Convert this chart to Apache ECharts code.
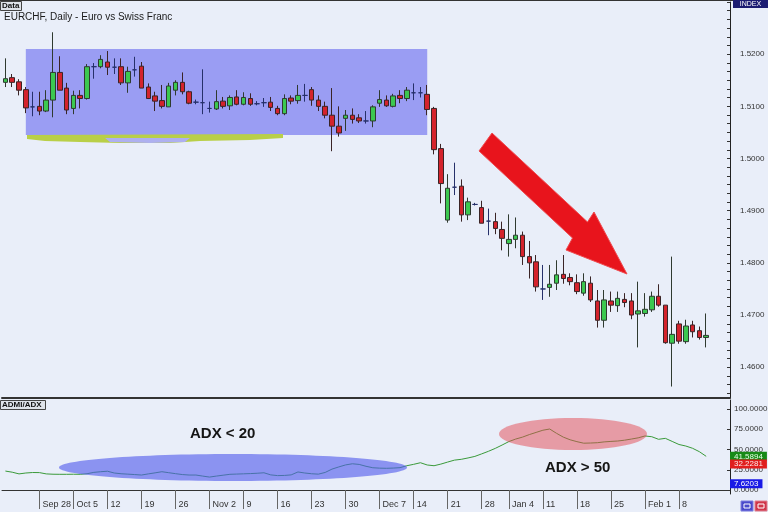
<!DOCTYPE html>
<html><head><meta charset="utf-8">
<script src="https://cdn.jsdelivr.net/npm/echarts@6/dist/echarts.min.js"></script>
<style>html,body{margin:0;padding:0;background:#e9eef9}#c{width:768px;height:512px}</style>
</head><body><div id="c"></div><script>
// ---------- data ----------
const startDate = '2009-09-21';
const holidays = ['2010-01-01'];
const padBars = 3;
const opens = [1.5146,1.5155,1.5147,1.5132,1.5099,1.5100,1.5091,1.5112,1.5165,1.5135,
1.5096,1.5121,1.5115,1.5176,1.5176,1.5185,1.5175,1.5176,1.5145,1.5170,
1.5177,1.5137,1.5120,1.5111,1.5099,1.5131,1.5146,1.5128,1.5108,1.5107,
1.5096,1.5095,1.5110,1.5101,1.5118,1.5104,1.5115,1.5105,1.5107,1.5108,
1.5096,1.5086,1.5116,1.5111,1.5121,1.5132,1.5112,1.5100,1.5083,1.5062,
1.5077,1.5083,1.5078,1.5072,1.5072,1.5106,1.5112,1.5100,1.5121,1.5115,
1.5126,1.5126,1.5123,1.5096,1.5019,1.4882,1.4945,1.4947,1.4892,1.4912,
1.4906,1.4880,1.4879,1.4864,1.4837,1.4845,1.4853,1.4812,1.4802,1.4750,
1.4753,1.4761,1.4778,1.4772,1.4762,1.4742,1.4761,1.4727,1.4690,1.4727,
1.4718,1.4730,1.4727,1.4702,1.4703,1.4710,1.4736,1.4719,1.4646,1.4683,
1.4649,1.4681,1.4670,1.4657];
const closes = [1.5153,1.5146,1.5131,1.5097,1.5099,1.5091,1.5112,1.5165,1.5131,1.5093,
1.5121,1.5115,1.5176,1.5176,1.5190,1.5175,1.5175,1.5145,1.5167,1.5170,
1.5135,1.5115,1.5110,1.5100,1.5139,1.5146,1.5128,1.5106,1.5108,1.5107,
1.5096,1.5109,1.5100,1.5117,1.5104,1.5117,1.5104,1.5105,1.5107,1.5098,
1.5086,1.5115,1.5110,1.5121,1.5121,1.5112,1.5100,1.5083,1.5062,1.5049,
1.5083,1.5075,1.5072,1.5072,1.5099,1.5113,1.5101,1.5120,1.5115,1.5131,
1.5126,1.5126,1.5094,1.5017,1.4952,1.4943,1.4945,1.4892,1.4917,1.4912,
1.4876,1.4880,1.4866,1.4847,1.4845,1.4853,1.4812,1.4800,1.4754,1.4750,
1.4759,1.4777,1.4770,1.4764,1.4745,1.4764,1.4729,1.4690,1.4729,1.4719,
1.4732,1.4724,1.4700,1.4708,1.4711,1.4736,1.4719,1.4647,1.4663,1.4650,
1.4679,1.4668,1.4657,1.4661];
const lows = [1.5137,1.5137,1.5121,1.5087,1.5081,1.5083,1.5089,1.5079,1.5131,1.5085,
1.5085,1.5096,1.5113,1.5153,1.5173,1.5160,1.5162,1.5141,1.5126,1.5157,
1.5135,1.5114,1.5091,1.5096,1.5099,1.5121,1.5123,1.5104,1.5104,1.5085,
1.5088,1.5093,1.5096,1.5093,1.5102,1.5102,1.5101,1.5102,1.5099,1.5091,
1.5083,1.5083,1.5104,1.5105,1.5109,1.5101,1.5091,1.5077,1.5014,1.5042,
1.5053,1.5067,1.5068,1.5067,1.5060,1.5099,1.5099,1.5098,1.5106,1.5110,
1.5112,1.5117,1.5083,1.5008,1.4914,1.4877,1.4930,1.4879,1.4882,1.4910,
1.4876,1.4853,1.4855,1.4824,1.4812,1.4828,1.4796,1.4770,1.4745,1.4729,
1.4735,1.4748,1.4760,1.4757,1.4740,1.4737,1.4725,1.4676,1.4676,1.4706,
1.4706,1.4715,1.4692,1.4638,1.4697,1.4706,1.4716,1.4645,1.4563,1.4645,
1.4645,1.4657,1.4653,1.4638];
const highs = [1.5192,1.5162,1.5152,1.5137,1.5128,1.5128,1.5131,1.5242,1.5196,1.5145,
1.5130,1.5131,1.5181,1.5183,1.5198,1.5206,1.5192,1.5192,1.5176,1.5195,
1.5185,1.5144,1.5128,1.5141,1.5145,1.5150,1.5165,1.5130,1.5113,1.5171,
1.5109,1.5131,1.5118,1.5121,1.5131,1.5127,1.5125,1.5110,1.5116,1.5118,
1.5101,1.5123,1.5121,1.5141,1.5143,1.5137,1.5121,1.5109,1.5135,1.5100,
1.5093,1.5096,1.5085,1.5091,1.5102,1.5131,1.5121,1.5124,1.5131,1.5137,
1.5144,1.5137,1.5141,1.5099,1.5028,1.4970,1.4992,1.4960,1.4925,1.4915,
1.4919,1.4904,1.4896,1.4879,1.4893,1.4887,1.4860,1.4842,1.4815,1.4796,
1.4796,1.4805,1.4815,1.4780,1.4778,1.4780,1.4774,1.4748,1.4748,1.4745,
1.4745,1.4742,1.4742,1.4764,1.4742,1.4745,1.4759,1.4719,1.4812,1.4689,
1.4691,1.4689,1.4678,1.4703];
const adx = [23.4,22.0,19.9,21.0,21.6,21.5,19.9,19.5,19.4,19.4,
19.5,19.4,20.1,21.8,22.6,23.2,21.0,20.1,19.6,19.1,
18.5,19.9,21.2,22.6,21.4,20.2,19.1,18.5,18.5,17.2,
16.0,17.2,18.3,19.4,19.7,20.0,20.3,20.7,21.3,18.7,
17.8,18.0,18.7,22.3,21.0,20.1,19.6,21.7,25.8,28.5,
31.0,32.4,31.6,29.3,27.5,27.0,26.8,27.1,27.6,30.0,
31.7,33.7,30.9,30.0,32.0,34.5,36.9,37.9,39.6,41.5,
44.6,47.8,51.4,55.5,59.8,62.9,65.3,68.4,71.1,73.8,
75.3,70.0,65.3,62.0,59.7,57.8,58.0,58.4,59.4,60.0,
60.5,61.5,62.9,64.4,66.7,65.8,62.6,63.8,60.0,56.2,
54.3,51.5,47.3,41.5894];
const diTags = [41.5894, 32.2281, 7.6203];
const tickDates = ['2009-09-28','2009-10-05','2009-10-12','2009-10-19','2009-10-26','2009-11-02','2009-11-09','2009-11-16','2009-11-23','2009-11-30','2009-12-07','2009-12-14','2009-12-21','2009-12-28','2010-01-04','2010-01-11','2010-01-18','2010-01-25','2010-02-01','2010-02-08'];
const tickTexts = ['Sep 28','Oct 5','12','19','26','Nov 2','9','16','23','30','Dec 7','14','21','28','Jan 4','11','18','25','Feb 1','8'];
const priceTicks = [1.46,1.47,1.48,1.49,1.50,1.51,1.52];
const adxTicks = [0,25,50,75,100];
const boxRange = {from: 3, to: 62, top: 1.5210, bottom: 1.5045};

// ---------- build ----------
const nBars = opens.length;
const cats = [];
(function(){
  let d = Date.parse(startDate + 'T00:00:00Z');
  while (cats.length < nBars + padBars) {
    const dt = new Date(d); const wd = dt.getUTCDay(); const s = dt.toISOString().slice(0,10);
    if (wd !== 0 && wd !== 6 && holidays.indexOf(s) < 0) cats.push(s);
    d += 86400000;
  }
})();
const tickMap = {}; tickDates.forEach((d,i)=>tickMap[d]=tickTexts[i]);
const candle = cats.map((c,i)=> i<nBars ? [opens[i],closes[i],lows[i],highs[i]] : '-');
const adxData = cats.map((c,i)=> i<nBars ? adx[i] : '-');
const minorTicks = []; for (let k=0;k<=45;k++){ minorTicks.push(+(1.455 + k*0.01/6).toFixed(5)); }
const isTick = (i,v)=> tickMap[v] !== undefined;
const FF = '"Liberation Sans", Arial, sans-serif';

const chart = echarts.init(document.getElementById('c'), null, {renderer:'canvas'});
chart.setOption({
  animation:false,
  backgroundColor:'#e9eef9',
  textStyle:{fontFamily:FF},
  title:{text:'EURCHF, Daily - Euro vs Swiss Franc', left:4, top:12, padding:0, textStyle:{fontSize:10, fontWeight:'normal', color:'#1a1a1a', fontFamily:FF}},
  grid:[
    {left:2, top:2, width:728, height:396, outerBoundsMode:'none', containLabel:false},
    {left:2, top:400, width:728, height:94, outerBoundsMode:'none', containLabel:false}
  ],
  xAxis:[
    {type:'category', gridIndex:0, data:cats, boundaryGap:true,
     axisLine:{show:true, lineStyle:{color:'#333', width:2}}, axisTick:{show:false}, axisLabel:{show:false}, splitLine:{show:false}},
    {type:'category', gridIndex:1, data:cats, boundaryGap:true,
     axisLine:{show:true, lineStyle:{color:'#333', width:1}},
     axisTick:{show:true, alignWithLabel:true, interval:isTick, length:19, lineStyle:{color:'#666'}},
     axisLabel:{show:true, interval:isTick, formatter:(v)=>tickMap[v]||'', align:'left', padding:[0,0,0,3], margin:6, fontSize:9, color:'#333', fontFamily:FF},
     splitLine:{show:false}}
  ],
  yAxis:[
    {type:'value', gridIndex:0, position:'right', min:1.4541, max:1.5300,
     axisLine:{show:true, lineStyle:{color:'#222', width:1}},
     axisTick:{show:true, inside:true, length:3, customValues:minorTicks, lineStyle:{color:'#333'}},
     axisLabel:{show:true, customValues:priceTicks, formatter:(v)=>v.toFixed(4), margin:10, fontSize:8, color:'#333', fontFamily:FF},
     splitLine:{show:false}},
    {type:'value', gridIndex:1, position:'right', min:-4.9, max:111.1,
     axisLine:{show:true, lineStyle:{color:'#222', width:1}},
     axisTick:{show:true, inside:true, length:3, customValues:adxTicks, lineStyle:{color:'#333'}},
     axisLabel:{show:true, customValues:adxTicks, formatter:(v)=>v.toFixed(4), margin:4, fontSize:8, color:'#333', fontFamily:FF},
     splitLine:{show:false}}
  ],
  series:[
    {type:'candlestick', name:'EURCHF', xAxisIndex:0, yAxisIndex:0, data:candle, barWidth:5,
     itemStyle:{color:'#3cc850', color0:'#d4232c', borderColor:'#2f3a30', borderColor0:'#3a2426', borderColorDoji:'#26306a', borderWidth:1},
     markArea:{silent:true, itemStyle:{color:'#9a9df3', opacity:1},
       data:[[{xAxis:cats[boxRange.from], yAxis:boxRange.top},{xAxis:cats[boxRange.to], yAxis:boxRange.bottom}]]}},
    {type:'line', name:'ADX', xAxisIndex:1, yAxisIndex:1, data:adxData, symbol:'none', smooth:false,
     lineStyle:{color:'#3a9a3a', width:1},
     markLine:{silent:true, precision:4, symbol:['none','none'], lineStyle:{color:'rgba(0,0,0,0)', width:0},
       label:{show:true, position:'end', distance:0, fontSize:8, fontFamily:FF, padding:[1,4,0,4], opacity:1, formatter:(p)=>Number(p.value).toFixed(4)},
       data:[
         {yAxis:diTags[0], label:{backgroundColor:'#178a17', color:'#e6ffe6'}},
         {yAxis:diTags[1], label:{backgroundColor:'#e01e1e', color:'#ffe6e6'}},
         {yAxis:diTags[2], label:{backgroundColor:'#1a1ae6', color:'#ffffff'}}
       ]}}
  ],
  graphic:[
    {type:'line', shape:{x1:0,y1:0.5,x2:768,y2:0.5}, style:{stroke:'#333', lineWidth:1}, z:50},
    {type:'rect', shape:{x:0.5,y:1.5,width:21,height:9}, style:{fill:'#dfe3ea', stroke:'#444', lineWidth:1}, z:50},
    {type:'text', x:2, y:2, style:{text:'Data', font:'bold 8px "Liberation Sans"', fill:'#111', verticalAlign:'top'}, z:51},
    {type:'rect', shape:{x:733,y:0,width:35,height:8}, style:{fill:'#1c1c72'}, z:50},
    {type:'text', x:750.5, y:0.5, style:{text:'INDEX', font:'7px "Liberation Sans"', fill:'#ffffff', align:'center', verticalAlign:'top'}, z:51},
    {type:'rect', shape:{x:0.5,y:400.5,width:45,height:9}, style:{fill:'#dfe3ea', stroke:'#444', lineWidth:1}, z:50},
    {type:'text', x:2, y:401, style:{text:'ADMI/ADX', font:'bold 8px "Liberation Sans"', fill:'#111', verticalAlign:'top'}, z:51},
    {type:'rect', shape:{x:741,y:501,width:12,height:10}, style:{fill:'#4a4acb', stroke:'#8080e0'}, z:50},
    {type:'rect', shape:{x:744,y:504,width:6,height:4}, style:{fill:'none', stroke:'#ffffff'}, z:51},
    {type:'rect', shape:{x:755,y:501,width:12,height:10}, style:{fill:'#d0364a', stroke:'#e08090'}, z:50},
    {type:'rect', shape:{x:758,y:504,width:6,height:4}, style:{fill:'none', stroke:'#ffffff'}, z:51},
    {type:'polygon', shape:{points:[[27,135],[283,134],[283,138],[250,140],[200,141],[170,143],[120,143],[80,142],[45,141],[27,139]]}, style:{fill:'#b9cf48'}, z:5},
    {type:'polygon', shape:{points:[[105,138],[190,138],[185,142],[150,143],[110,142]]}, style:{fill:'#aeb0f0'}, z:6},
    {type:'polygon', shape:{points:[[492,133],[587.5,222],[594,212],[627,274],[566,250],[572.5,238],[479,151]]}, style:{fill:'#e8141c', stroke:'#ef4a4f', lineWidth:1}, z:100},
    {type:'ellipse', shape:{cx:233, cy:467.5, rx:174, ry:13.5}, style:{fill:'rgba(80,90,235,0.62)'}, z:100},
    {type:'ellipse', shape:{cx:573, cy:434, rx:74, ry:16}, style:{fill:'rgba(228,72,82,0.5)'}, z:100},
    {type:'text', x:190, y:426, style:{text:'ADX < 20', font:'bold 15px "Liberation Sans"', fill:'#151515', verticalAlign:'top'}, z:101},
    {type:'text', x:545, y:460, style:{text:'ADX > 50', font:'bold 15px "Liberation Sans"', fill:'#151515', verticalAlign:'top'}, z:101}
  ]
});
</script></body></html>
